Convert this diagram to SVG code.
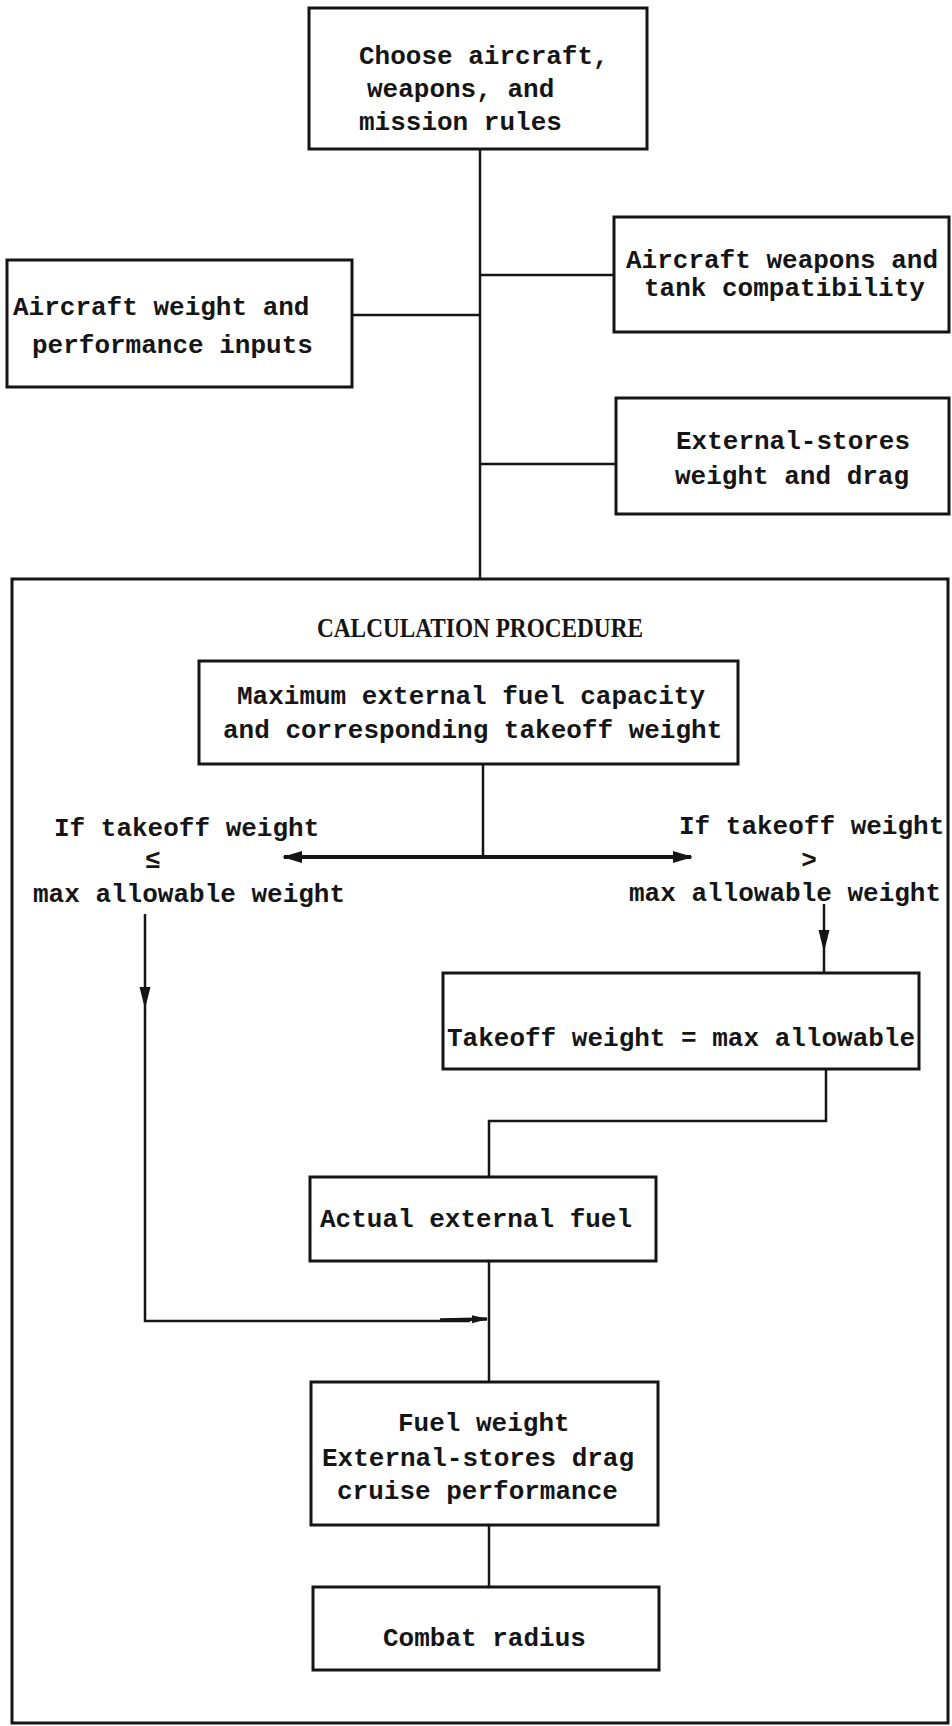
<svg xmlns="http://www.w3.org/2000/svg" xmlns:xlink="http://www.w3.org/1999/xlink" width="952" height="1726" viewBox="0 0 952 1726">
<style>
  .box{fill:none;stroke:#151515;stroke-width:3}
  .t{font-family:"Liberation Mono","DejaVu Sans Mono",monospace;font-size:26px;font-weight:bold;fill:#151515}
  .h{font-family:"Liberation Serif","Times New Roman",serif;font-size:27px;font-weight:bold;fill:#151515}
  .c{fill:none;stroke:#151515;stroke-width:2.5}
  .ah{fill:#151515;stroke:none}
</style>
<defs>
  <marker id="big" viewBox="0 0 20 14" refX="18" refY="7" markerWidth="20" markerHeight="14" markerUnits="userSpaceOnUse" orient="auto-start-reverse">
    <path d="M0,1 L20,7 L0,13 Z" fill="#151515"/>
  </marker>
  <marker id="sm" viewBox="0 0 16 10" refX="15" refY="5" markerWidth="16" markerHeight="10" markerUnits="userSpaceOnUse" orient="auto">
    <path d="M0,1 L16,5 L0,9 Z" fill="#151515"/>
  </marker>
  <path id="ahDown" d="M-5.5,-22 L5.5,-22 L0,0 Z"/>
</defs>
<rect width="952" height="1726" fill="#ffffff"/>

<g id="connectors">
  <path class="c" d="M480,149 V579"/>
  <path class="c" d="M480,275 H614"/>
  <path class="c" d="M352,315 H480"/>
  <path class="c" d="M480,464 H616"/>
  <path class="c" d="M483,764 V857"/>
  <path fill="none" stroke="#151515" stroke-width="4" d="M284,857 H691" marker-start="url(#big)" marker-end="url(#big)"/>
  <path class="c" d="M145,914 V1321 H470"/>
  <path fill="none" stroke="#151515" stroke-width="3.5" d="M440,1320 L487,1319" marker-end="url(#sm)"/>
  <use href="#ahDown" class="ah" x="145" y="1009"/>
  <path class="c" d="M824,904 V973"/>
  <use href="#ahDown" class="ah" x="824" y="952"/>
  <path class="c" d="M826,1069 V1121 H489 V1177"/>
  <path class="c" d="M489,1261 V1382"/>
  <path class="c" d="M489,1525 V1587"/>
</g>

<g id="n-choose">
  <rect class="box" x="309" y="8" width="338" height="141"/>
  <text class="t" x="359" y="64">Choose aircraft,</text>
  <text class="t" x="367" y="97">weapons, and</text>
  <text class="t" x="359" y="130">mission rules</text>
</g>

<g id="n-compat">
  <rect class="box" x="614" y="217" width="335" height="115"/>
  <text class="t" x="626" y="268">Aircraft weapons and</text>
  <text class="t" x="644" y="296">tank compatibility</text>
</g>

<g id="n-inputs">
  <rect class="box" x="7" y="260" width="345" height="127"/>
  <text class="t" x="13" y="315">Aircraft weight and</text>
  <text class="t" x="32" y="353">performance inputs</text>
</g>

<g id="n-stores">
  <rect class="box" x="616" y="398" width="333" height="116"/>
  <text class="t" x="676" y="449">External-stores</text>
  <text class="t" x="675" y="484">weight and drag</text>
</g>

<g id="n-procedure">
  <rect class="box" x="12" y="579" width="936" height="1144"/>
  <text class="h" x="317" y="637" textLength="326" lengthAdjust="spacingAndGlyphs">CALCULATION PROCEDURE</text>
</g>

<g id="n-maxfuel">
  <rect class="box" x="199" y="661" width="539" height="103"/>
  <text class="t" x="237" y="704">Maximum external fuel capacity</text>
  <text class="t" x="223" y="738">and corresponding takeoff weight</text>
</g>

<g id="n-cond-le">
  <text class="t" x="54" y="836">If takeoff weight</text>
  <text class="t" x="153" y="868" text-anchor="middle">≤</text>
  <text class="t" x="33" y="902">max allowable weight</text>
</g>

<g id="n-cond-gt">
  <text class="t" x="679" y="834">If takeoff weight</text>
  <text class="t" x="809" y="868" text-anchor="middle">&gt;</text>
  <text class="t" x="629" y="901">max allowable weight</text>
</g>

<g id="n-takeoff">
  <rect class="box" x="443" y="973" width="476" height="96"/>
  <text class="t" x="447" y="1046">Takeoff weight = max allowable</text>
</g>

<g id="n-actual">
  <rect class="box" x="310" y="1177" width="346" height="84"/>
  <text class="t" x="320" y="1227">Actual external fuel</text>
</g>

<g id="n-fuelweight">
  <rect class="box" x="311" y="1382" width="347" height="143"/>
  <text class="t" x="398" y="1431">Fuel weight</text>
  <text class="t" x="322" y="1466">External-stores drag</text>
  <text class="t" x="337" y="1499">cruise performance</text>
</g>

<g id="n-radius">
  <rect class="box" x="313" y="1587" width="346" height="83"/>
  <text class="t" x="383" y="1646">Combat radius</text>
</g>
</svg>
